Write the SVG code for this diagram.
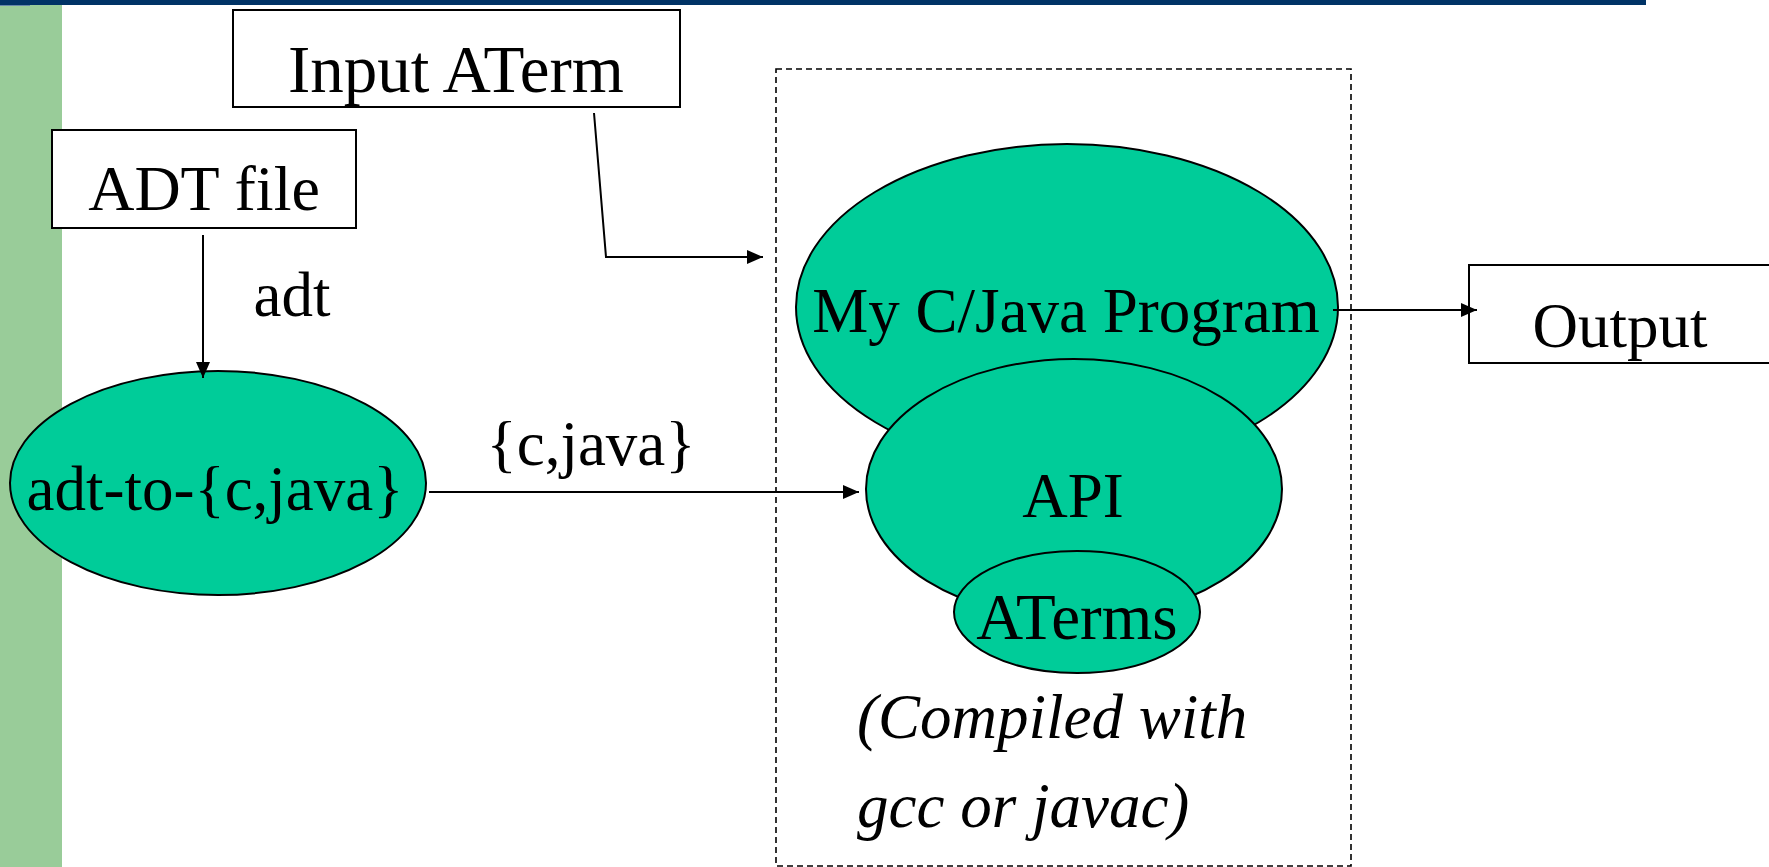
<svg xmlns="http://www.w3.org/2000/svg" width="1769" height="867" viewBox="0 0 1769 867">
<style>
.box{fill:#ffffff;stroke:#000000;stroke-width:2}
.ell{fill:#00CC99;stroke:#000000;stroke-width:2}
.t{font-family:"Liberation Serif","Times New Roman",serif;font-size:63px;fill:#000000}
.ti{font-family:"Liberation Serif","Times New Roman",serif;font-size:63px;font-style:italic;fill:#000000}
.c{fill:none;stroke:#000000;stroke-width:2}
</style>
<defs>
<marker id="ah" markerUnits="userSpaceOnUse" markerWidth="16" markerHeight="14" refX="16" refY="7" orient="auto">
<path d="M0,0 L16,7 L0,14 z" fill="#000000"/>
</marker>
</defs>
<rect x="0" y="0" width="1769" height="867" fill="#ffffff"/>
<rect x="0" y="0" width="1646" height="5" fill="#003366"/>
<rect x="0" y="5" width="62" height="862" fill="#99CC99"/>
<rect x="0" y="5" width="30" height="1" fill="#6688AA"/>

<g id="container">
<rect x="776" y="69" width="575" height="797" fill="none" stroke="#000000" stroke-width="1.6" stroke-dasharray="6 4"/>
</g>

<g id="input-aterm">
<rect class="box" x="233" y="10" width="447" height="97"/>
<text class="t" x="456" y="92" text-anchor="middle" style="font-size:67px">Input ATerm</text>
</g>

<g id="adt-file">
<rect class="box" x="52" y="130" width="304" height="98"/>
<text class="t" x="204" y="210" text-anchor="middle" style="font-size:64px">ADT file</text>
</g>

<g id="adt-to">
<ellipse class="ell" cx="218" cy="483" rx="208" ry="112"/>
<text class="t" x="215" y="510" text-anchor="middle">adt-to-{c,java}</text>
</g>

<g id="program">
<ellipse class="ell" cx="1067" cy="307" rx="271" ry="163"/>
<text class="t" x="1066" y="332" text-anchor="middle">My C/Java Program</text>
</g>

<g id="api">
<ellipse class="ell" cx="1074" cy="489" rx="208" ry="130"/>
<text class="t" x="1073" y="517" text-anchor="middle">API</text>
</g>

<g id="aterms">
<ellipse class="ell" cx="1077" cy="612" rx="123" ry="61"/>
<text class="t" x="1077" y="639" text-anchor="middle" style="font-size:65px">ATerms</text>
</g>

<g id="note">
<text class="ti" x="857" y="738">(Compiled with</text>
<text class="ti" x="857" y="827">gcc or javac)</text>
</g>

<g id="output">
<rect class="box" x="1469" y="265" width="320" height="98"/>
<text class="t" x="1620" y="347" text-anchor="middle">Output</text>
</g>

<g id="connectors">
<polyline class="c" points="594,113 606,257 763,257" marker-end="url(#ah)"/>
<line class="c" x1="203" y1="235" x2="203" y2="378" marker-end="url(#ah)"/>
<line class="c" x1="429" y1="492" x2="859" y2="492" marker-end="url(#ah)"/>
<line class="c" x1="1333" y1="310" x2="1477" y2="310" marker-end="url(#ah)"/>
<text class="t" x="292" y="316" text-anchor="middle">adt</text>
<text class="t" x="591" y="465" text-anchor="middle">{c,java}</text>
</g>
</svg>
